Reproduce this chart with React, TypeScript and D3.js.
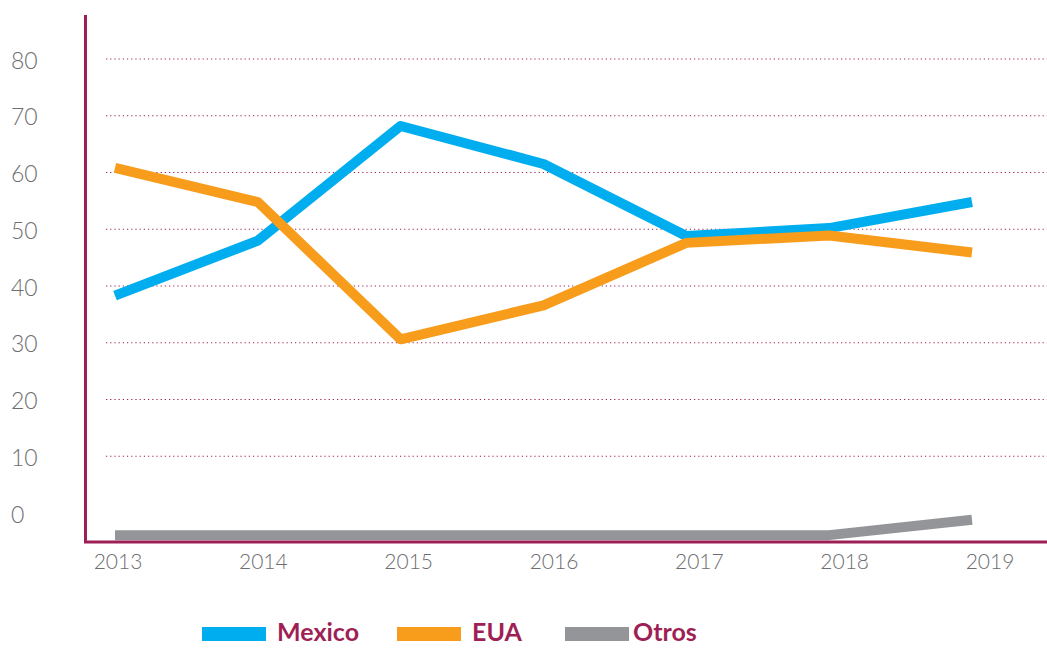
import React from 'react';
import * as d3 from 'd3';

const years = ['2013', '2014', '2015', '2016', '2017', '2018', '2019'];
const mexico = [38.3, 48, 68.2, 61.5, 48.8, 50.2, 54.8];
const eua = [60.8, 54.8, 30.6, 36.6, 47.6, 48.9, 45.9];
const otros = [-3.9, -3.9, -3.9, -3.9, -3.9, -3.9, -1.2];
const yTicks = [0, 10, 20, 30, 40, 50, 60, 70, 80];

const series = [
  { name: 'Mexico', values: mexico, color: '#00aeef' },
  { name: 'EUA', values: eua, color: '#f89c1c' },
  { name: 'Otros', values: otros, color: '#939598' },
];

const W = 1047;
const H = 648;
const axisColor = '#9e1f55';
const textColor = '#6d6e71';

const App: React.FC = () => {
  const x = d3.scalePoint<string>().domain(years).range([115, 972]);
  const xLabel = d3.scalePoint<string>().domain(years).range([118, 990]);
  const y = d3.scaleLinear().domain([0, 80]).range([513, 59]);

  const line = d3.line<number>()
    .x((_, i) => x(years[i])!)
    .y(d => y(d));

  const legendX = [202, 397, 565];

  return (
    <svg width={W} height={H} style={{ position: 'absolute', left: 0, top: 0 }}>
      <rect width={W} height={H} fill="#fff" />
      {/* Grid */}
      {yTicks.filter(t => t > 0).map(t => (
        <line key={t} x1={106} x2={W} y1={y(t)} y2={y(t)}
          stroke={axisColor} strokeWidth={1.2} strokeDasharray="1.2 3" />
      ))}
      {/* Y labels */}
      {yTicks.map(t => (
        <text key={t} x={11} y={y(t)} dy="0.42em" fontFamily="Lato, 'Open Sans', sans-serif"
          fontWeight={300} fontSize={23} fill={textColor}>{t}</text>
      ))}
      {/* Lines */}
      {series.map(s => (
        <path key={s.name} d={line(s.values)!} fill="none" stroke={s.color}
          strokeWidth={10} strokeLinejoin="round" />
      ))}
      {/* Axes */}
      <line x1={85.5} x2={85.5} y1={15} y2={543} stroke={axisColor} strokeWidth={3} />
      <line x1={84} x2={W} y1={542} y2={542} stroke={axisColor} strokeWidth={3} />
      {/* X labels */}
      {years.map(yr => (
        <text key={yr} x={xLabel(yr)} y={569} textAnchor="middle"
          fontFamily="Lato, 'Open Sans', sans-serif" fontWeight={300} fontSize={21} fill={textColor}>{yr}</text>
      ))}
      {/* Legend */}
      {series.map((s, i) => (
        <g key={s.name} transform={`translate(${legendX[i]},0)`}>
          <rect x={0} y={627} width={64} height={14} fill={s.color} />
          <text x={i === 2 ? 68 : 75} y={641} fontFamily="Lato, 'Open Sans', sans-serif"
            fontWeight={700} fontSize={25} fill={axisColor}>{s.name}</text>
        </g>
      ))}
    </svg>
  );
};

export default App;
